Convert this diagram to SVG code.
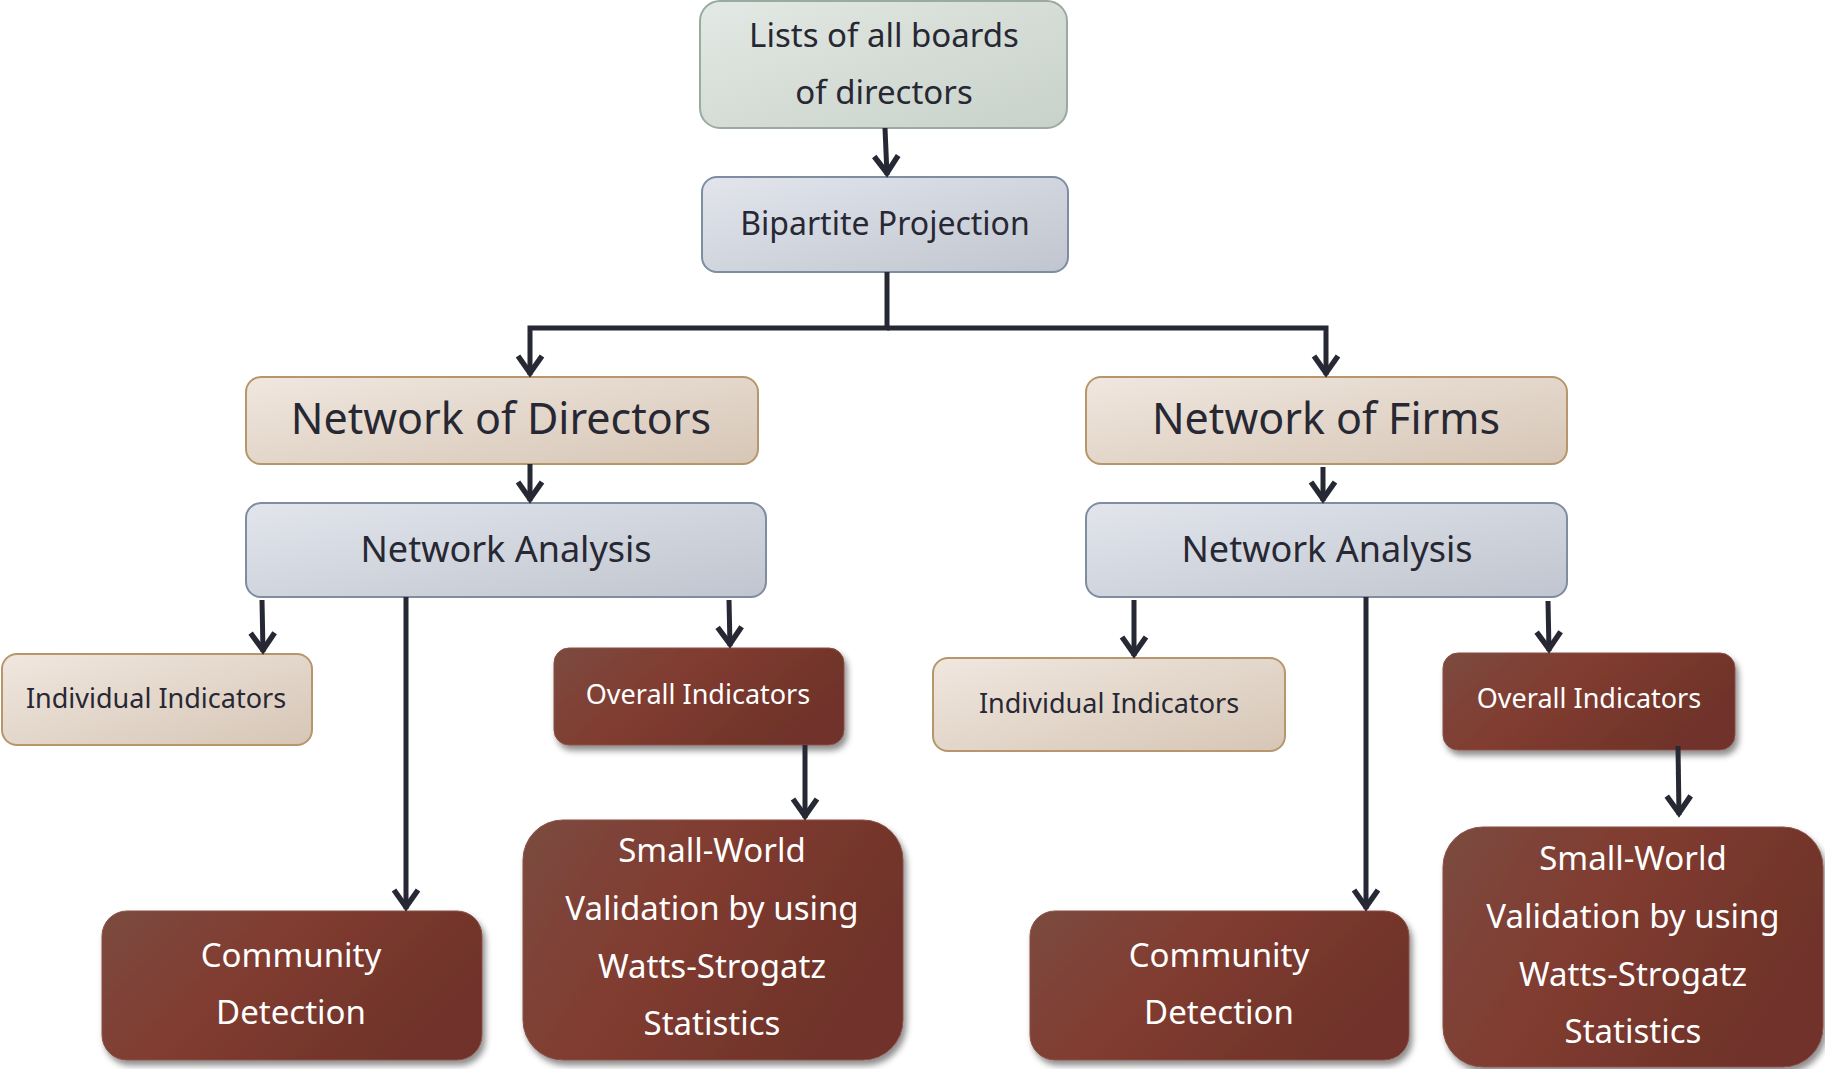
<svg xmlns="http://www.w3.org/2000/svg" width="1825" height="1069" viewBox="0 0 1825 1069">
<defs>
<linearGradient id="gGreen" x1="0" y1="0" x2="1" y2="1">
<stop offset="0" stop-color="#e3e9e4"/><stop offset="1" stop-color="#c8d1ca"/>
</linearGradient>
<linearGradient id="gBlue" x1="0" y1="0" x2="1" y2="1">
<stop offset="0" stop-color="#e2e5ec"/><stop offset="1" stop-color="#c0c5cf"/>
</linearGradient>
<linearGradient id="gBeige" x1="0" y1="0" x2="1" y2="1">
<stop offset="0" stop-color="#f0e7df"/><stop offset="1" stop-color="#d6c6b6"/>
</linearGradient>
<linearGradient id="gRed" x1="0" y1="0" x2="1" y2="0.4">
<stop offset="0" stop-color="#7b4a40"/><stop offset="0.45" stop-color="#813c30"/><stop offset="1" stop-color="#6f332a"/>
</linearGradient>
<filter id="shadow" x="-10%" y="-10%" width="125%" height="130%">
<feDropShadow dx="3" dy="5" stdDeviation="3" flood-color="#000" flood-opacity="0.45"/>
</filter>
<marker id="arr" markerUnits="userSpaceOnUse" markerWidth="40" markerHeight="40" viewBox="-20 -20 40 40" refX="2" refY="0" orient="auto">
<path d="M-17,-12 L0,0 L-17,12" fill="none" stroke="#262833" stroke-width="5.5"/>
</marker>
</defs>
<style>
.green{fill:url(#gGreen);stroke:#9aaa9f;stroke-width:2}
.blue{fill:url(#gBlue);stroke:#7e8da2;stroke-width:2}
.beige{fill:url(#gBeige);stroke:#b8966c;stroke-width:2}
.red{fill:url(#gRed);stroke:#8a5046;stroke-width:1;filter:url(#shadow)}
text{font-family:"Noto Sans","Open Sans",sans-serif;text-anchor:middle}
.dk{fill:#272833}
.wt{fill:#ffffff}
.conn{fill:none;stroke:#262833;stroke-width:5;marker-end:url(#arr)}
</style>

<g id="n-lists">
<rect class="green" x="700" y="1" width="367" height="127" rx="20"/>
<text class="dk" x="884" y="47" font-size="33">Lists of all boards</text>
<text class="dk" x="884" y="104" font-size="33">of directors</text>
</g>
<g id="n-bipartite">
<rect class="blue" x="702" y="177" width="366" height="95" rx="15"/>
<text class="dk" x="885" y="235" font-size="32">Bipartite Projection</text>
</g>
<g id="n-netdir">
<rect class="beige" x="246" y="377" width="512" height="87" rx="15"/>
<text class="dk" x="501" y="434" font-size="43">Network of Directors</text>
</g>
<g id="n-netfirm">
<rect class="beige" x="1086" y="377" width="481" height="87" rx="15"/>
<text class="dk" x="1326" y="434" font-size="43">Network of Firms</text>
</g>
<g id="n-na-left">
<rect class="blue" x="246" y="503" width="520" height="94" rx="15"/>
<text class="dk" x="506" y="562" font-size="36">Network Analysis</text>
</g>
<g id="n-na-right">
<rect class="blue" x="1086" y="503" width="481" height="94" rx="15"/>
<text class="dk" x="1327" y="562" font-size="36">Network Analysis</text>
</g>
<g id="n-ind-left">
<rect class="beige" x="2" y="654" width="310" height="91" rx="15"/>
<text class="dk" x="156" y="708" font-size="27">Individual Indicators</text>
</g>
<g id="n-ovr-left">
<rect class="red" x="554" y="648" width="290" height="97" rx="15"/>
<text class="wt" x="698" y="704" font-size="27">Overall Indicators</text>
</g>
<g id="n-ind-right">
<rect class="beige" x="933" y="658" width="352" height="93" rx="15"/>
<text class="dk" x="1109" y="713" font-size="27">Individual Indicators</text>
</g>
<g id="n-ovr-right">
<rect class="red" x="1443" y="653" width="292" height="97" rx="15"/>
<text class="wt" x="1589" y="708" font-size="27">Overall Indicators</text>
</g>
<g id="n-comm-left">
<rect class="red" x="102" y="911" width="380" height="149" rx="25"/>
<text class="wt" x="291" y="967" font-size="33">Community</text>
<text class="wt" x="291" y="1024" font-size="33">Detection</text>
</g>
<g id="n-sw-left">
<rect class="red" x="523" y="820" width="380" height="240" rx="40"/>
<text class="wt" x="712" y="862" font-size="33">Small-World</text>
<text class="wt" x="712" y="920" font-size="33">Validation by using</text>
<text class="wt" x="712" y="978" font-size="33">Watts-Strogatz</text>
<text class="wt" x="712" y="1035" font-size="33">Statistics</text>
</g>
<g id="n-comm-right">
<rect class="red" x="1030" y="911" width="379" height="149" rx="25"/>
<text class="wt" x="1219" y="967" font-size="33">Community</text>
<text class="wt" x="1219" y="1024" font-size="33">Detection</text>
</g>
<g id="n-sw-right">
<rect class="red" x="1443" y="827" width="380" height="240" rx="40"/>
<text class="wt" x="1633" y="870" font-size="33">Small-World</text>
<text class="wt" x="1633" y="928" font-size="33">Validation by using</text>
<text class="wt" x="1633" y="986" font-size="33">Watts-Strogatz</text>
<text class="wt" x="1633" y="1043" font-size="33">Statistics</text>
</g>

<g id="connectors">
<path class="conn" d="M885,128 L887,175"/>
<path class="conn" d="M887,272 V328 H530 V375"/>
<path class="conn" d="M887,328 H1326 V375"/>
<path class="conn" d="M530,464 V501"/>
<path class="conn" d="M1323,467 V501"/>
<path class="conn" d="M262,600 L263,652"/>
<path class="conn" d="M406,597 V909"/>
<path class="conn" d="M729,600 L730,646"/>
<path class="conn" d="M805,745 V818"/>
<path class="conn" d="M1134,600 V656"/>
<path class="conn" d="M1366,597 V909"/>
<path class="conn" d="M1548,601 L1549,651"/>
<path class="conn" d="M1678,746 L1679,815"/>
</g>
</svg>
